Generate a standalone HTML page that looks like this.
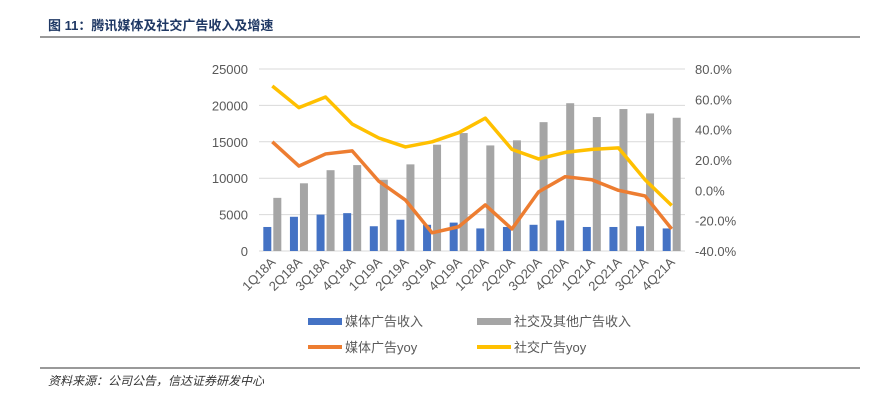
<!DOCTYPE html>
<html><head><meta charset="utf-8"><style>
body{margin:0;background:#fff;width:873px;height:400px;overflow:hidden;font-family:"Liberation Sans","Noto Sans CJK SC",sans-serif}
</style></head><body>
<svg width="873" height="400" id="svg" font-family="Liberation Sans, Noto Sans CJK SC, sans-serif">
<text x="48" y="30" font-size="13" font-weight="bold" fill="#1f3864">图 11：腾讯媒体及社交广告收入及增速</text>
<line x1="40" y1="37" x2="860" y2="37" stroke="#333" stroke-width="1"/>
<line x1="40" y1="368" x2="860" y2="368" stroke="#333" stroke-width="1"/>
<text x="48" y="385" font-size="12" font-style="italic" fill="#333">资料来源：公司公告，信达证券研发中心</text>
<g id="plot"></g>
<g>
<rect x="308" y="318" width="34" height="7" fill="#4472c4"/>
<text x="345" y="326" font-size="13" fill="#595959">媒体广告收入</text>
<rect x="477" y="318" width="34" height="7" fill="#a5a5a5"/>
<text x="514" y="326" font-size="13" fill="#595959">社交及其他广告收入</text>
<line x1="308" y1="347" x2="342" y2="347" stroke="#ed7d31" stroke-width="4"/>
<text x="345" y="352" font-size="13" fill="#595959">媒体广告yoy</text>
<line x1="477" y1="347" x2="511" y2="347" stroke="#ffc000" stroke-width="4"/>
<text x="514" y="352" font-size="13" fill="#595959">社交广告yoy</text>
</g>
</svg>
<script>
const categories=["1Q18A","2Q18A","3Q18A","4Q18A","1Q19A","2Q19A","3Q19A","4Q19A","1Q20A","2Q20A","3Q20A","4Q20A","1Q21A","2Q21A","3Q21A","4Q21A"];
const mediaRev=[3300,4700,5000,5200,3400,4300,3600,3900,3100,3300,3600,4200,3300,3300,3400,3100];
const socialRev=[7300,9300,11100,11800,9800,11900,14600,16200,14500,15200,17700,20300,18400,19500,18900,18300];
const mediaYoy=[32,16,24,26,6,-6.4,-28,-24,-9.6,-25.5,-1,9,7,0,-3.7,-25.5];
const socialYoy=[68.8,54.5,61.5,43.7,34.5,28.6,32,38,47.6,27,20.7,25,27,28,7,-10];
const leftTicks=[0,5000,10000,15000,20000,25000];
const rightTicks=[-40,-20,0,20,40,60,80];
const NS="http://www.w3.org/2000/svg";
const g=document.getElementById('plot');
const X0=259,X1=685,Y0=251,Y1=69;
const step=(X1-X0)/categories.length;
const xc=i=>X0+step*(i+0.5);
const yL=v=>Y0-(v/25000)*(Y0-Y1);
const yR=v=>Y0-((v+40)/120)*(Y0-Y1);
function el(t,a){const e=document.createElementNS(NS,t);for(const k in a)e.setAttribute(k,a[k]);g.appendChild(e);return e;}
leftTicks.forEach(v=>{
 const l=el('line',{x1:X0,x2:X1,y1:yL(v),y2:yL(v),stroke:'#d9d9d9','stroke-width':1});
 
 
 const t=el('text',{x:248,y:yL(v)+5,'text-anchor':'end','font-size':13,fill:'#595959'});
 t.textContent=v;
 
 
});
rightTicks.forEach(v=>{
 const t=el('text',{x:695,y:yR(v)+5,'font-size':13,fill:'#595959'});
 t.textContent=v.toFixed(1)+'%';
 
 
});
const bw=8;
categories.forEach((c,i)=>{
 const b=el('rect',{x:xc(i)-bw-1,y:yL(mediaRev[i]),width:bw,height:Y0-yL(mediaRev[i]),fill:'#4472c4'});
 
 
 const s=el('rect',{x:xc(i)+1,y:yL(socialRev[i]),width:bw,height:Y0-yL(socialRev[i]),fill:'#a5a5a5'});
 
 
 const t=el('text',{x:0,y:0,'text-anchor':'end','font-size':13,fill:'#595959',transform:`translate(${xc(i)+4},${Y0+12}) rotate(-45)`});
 t.textContent=c;
 
 
});
function line(arr,col,name){
 const p=el('polyline',{points:arr.map((v,i)=>xc(i)+','+yR(v)).join(' '),fill:'none',stroke:col,'stroke-width':3.5,'stroke-linejoin':'round'});
 
 
}
line(mediaYoy,'#ed7d31','line-media-yoy');
line(socialYoy,'#ffc000','line-social-yoy');
</script>
</body></html>
